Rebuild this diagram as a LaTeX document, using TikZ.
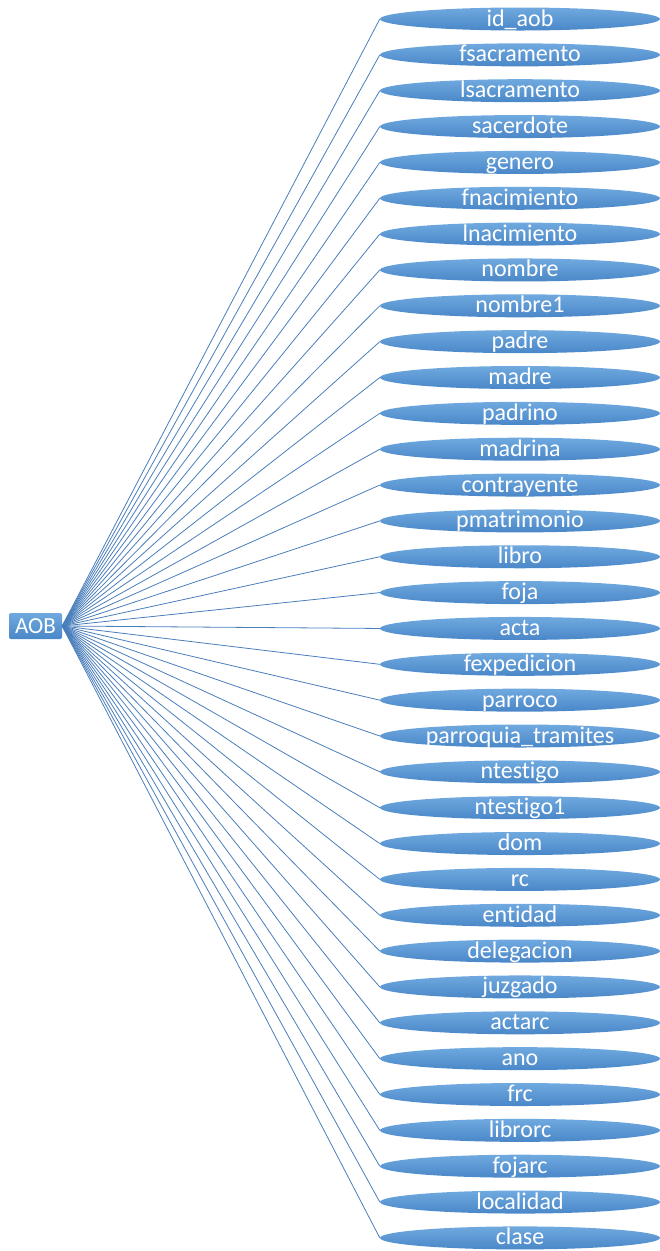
\documentclass[tikz,border=0pt]{standalone}
\usepackage{fontspec}
\setmainfont{Carlito}[Ligatures=NoCommon]
\usetikzlibrary{shapes.geometric}

\definecolor{campoTop}{HTML}{6FA9DF}
\definecolor{campoBot}{HTML}{4A87C8}
\definecolor{enlace}{HTML}{4A7EBB}

\begin{document}
\begin{tikzpicture}[x=1pt, y=-1pt,
		campo/.style = {ellipse, minimum width = 280pt, minimum height = 23pt, inner sep = 0pt,
			top color = campoTop, bottom color = campoBot},
		etiqueta/.style = {anchor = base, text = white, inner sep = 0pt, font = \fontsize{24}{24}\selectfont},
		raiz/.style = {rectangle, rounded corners = 2pt, minimum width = 53pt, minimum height = 26pt,
			inner sep = 0pt, top color = campoTop, bottom color = campoBot, text = white,
			font = \fontsize{23}{24}\selectfont}]
	\useasboundingbox (0,0) rectangle (660,1251);
	
	\node[raiz] (aob) at (35.5,626) {AOB};
	
	\foreach \nombre [count = \i from 0] in {id\_aob, fsacramento, lsacramento, sacerdote, genero,
		fnacimiento, lnacimiento, nombre, nombre1, padre, madre, padrino, madrina, contrayente,
		pmatrimonio, libro, foja, acta, fexpedicion, parroco, parroquia\_tramites, ntestigo,
		ntestigo1, dom, rc, entidad, delegacion, juzgado, actarc, ano, frc, librorc, fojarc,
		localidad, clase}{
		
		\pgfmathsetmacro{\yy}{19 + 35.85*\i}
		\node[campo] (c\i) at (520,\yy) {};
		\node[etiqueta] (t\i) at ([yshift=-7pt]c\i.center) {\nombre};
		\draw[enlace, line width = 0.8pt] (aob.east) -- (c\i.west);
	}
\end{tikzpicture}
\end{document}
